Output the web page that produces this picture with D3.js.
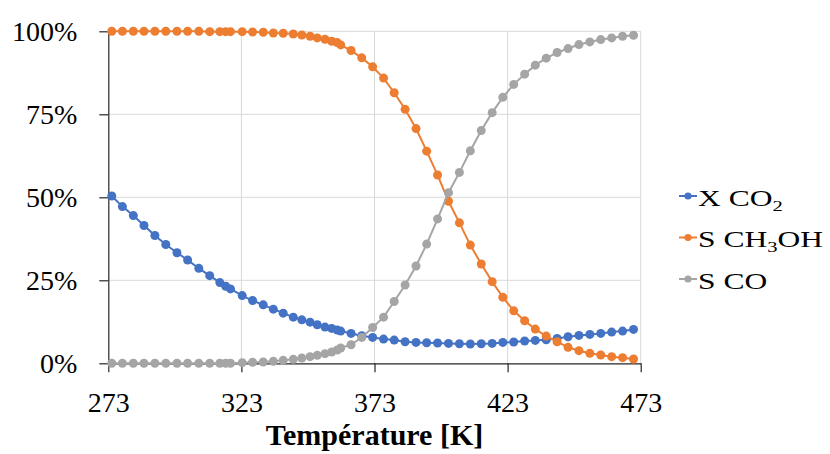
<!DOCTYPE html>
<html>
<head>
<meta charset="utf-8">
<script src="https://cdn.jsdelivr.net/npm/d3@7"></script>
<style>
  html, body { margin: 0; padding: 0; background: #fff; }
  svg { display: block; }
  text { font-family: "Liberation Serif", "DejaVu Serif", serif; fill: #000; }
</style>
</head>
<body>
<svg id="chart" width="830" height="454"></svg>
<script>
// ---- data ----
const temperatures = [274.3, 278.3, 282.4, 286.4, 290.5, 294.6, 298.8, 302.8, 307.0, 311.1,
  314.9, 317.1, 318.9, 323.3, 327.2, 331.2, 335.0, 338.7, 342.5, 345.7,
  348.8, 351.5, 354.4, 356.9, 359.0, 360.3, 364.2, 368.2, 372.3, 376.4,
  380.4, 384.5, 388.6, 392.6, 396.7, 400.8, 404.9, 409.0, 413.1, 417.2,
  421.2, 425.3, 429.4, 433.4, 437.5, 441.6, 445.7, 449.8, 453.9, 458.0,
  462.1, 466.2, 470.3];

const xCO2 = [50.4, 47.2, 44.5, 41.5, 38.5, 35.8, 33.3, 31.1, 28.6, 26.4,
  24.3, 23.2, 22.4, 20.4, 18.9, 17.6, 16.3, 15.1, 13.9, 13.1,
  12.4, 11.6, 10.9, 10.5, 10.0, 9.7, 9.0, 8.3, 7.8, 7.3,
  7.0, 6.5, 6.3, 6.2, 6.1, 6.0, 5.9, 5.8, 5.9, 6.0,
  6.3, 6.4, 6.7, 6.9, 7.1, 7.5, 8.0, 8.4, 8.7, 9.0,
  9.4, 9.7, 10.2];

const sCH3OH = [100, 100, 100, 100, 100, 100, 100, 100, 100, 99.9,
  99.9, 99.9, 99.9, 99.9, 99.8, 99.7, 99.5, 99.4, 99.2, 98.9,
  98.5, 98.0, 97.6, 97.0, 96.6, 95.9, 94.2, 92.0, 89.3, 85.9,
  81.5, 76.5, 70.7, 63.9, 56.7, 48.8, 42.3, 35.6, 29.9, 24.6,
  19.9, 15.8, 12.8, 10.3, 8.2, 6.5, 4.8, 3.8, 3.0, 2.5,
  2.0, 1.7, 1.3];

const sCO = [0, 0, 0, 0, 0, 0, 0, 0, 0, 0,
  0, 0, 0, 0.2, 0.3, 0.4, 0.6, 0.9, 1.2, 1.6,
  2.0, 2.4, 2.9, 3.4, 4.0, 4.6, 5.6, 7.8, 10.8, 13.9,
  18.6, 23.6, 29.3, 35.9, 43.5, 51.4, 57.5, 64.0, 70.1, 75.5,
  80.1, 84.0, 87.1, 89.8, 91.9, 93.6, 94.8, 96.0, 96.8, 97.5,
  98.0, 98.5, 98.8];

const xTicks = [273, 323, 373, 423, 473];
const yTicks = [0, 25, 50, 75, 100];
const xTitle = "Température [K]";

const seriesNames = [
  { parts: [["X CO", false], ["2", true]] },
  { parts: [["S CH", false], ["3", true], ["OH", false]] },
  { parts: [["S CO", false]] }
];
const seriesValues = [xCO2, sCH3OH, sCO];
const seriesColors = ["#4472C4", "#ED7D31", "#A5A5A5"];

// ---- layout ----
const svg = d3.select("#chart");
const plot = { left: 108.3, right: 640.7, top: 31.3, bottom: 363.3 };

const x = d3.scaleLinear().domain([273, 473]).range([plot.left, plot.right]);
const y = d3.scaleLinear().domain([0, 100]).range([plot.bottom, plot.top]);

// gridlines
const grid = svg.append("g").attr("stroke", "#D9D9D9").attr("stroke-width", 1);
grid.selectAll("line.h").data(yTicks.filter(d => d > 0)).join("line")
  .attr("x1", plot.left).attr("x2", plot.right)
  .attr("y1", d => y(d)).attr("y2", d => y(d));
grid.selectAll("line.v").data(xTicks.filter(d => d > 273)).join("line")
  .attr("x1", d => x(d)).attr("x2", d => x(d))
  .attr("y1", plot.top).attr("y2", plot.bottom);

// axes
const yAxis = d3.axisLeft(y).tickValues(yTicks).tickFormat(d => d + "%")
  .tickSize(9).tickSizeOuter(0).tickPadding(22);
const gy = svg.append("g").attr("transform", `translate(${plot.left},0)`).call(yAxis);

const xAxis = d3.axisBottom(x).tickValues(xTicks).tickFormat(d3.format("d"))
  .tickSize(9).tickSizeOuter(0).tickPadding(19.5);
const gx = svg.append("g").attr("transform", `translate(0,${plot.bottom})`).call(xAxis);

[gx, gy].forEach(g => {
  g.select(".domain").attr("stroke", "#262626").attr("stroke-width", 1.2);
  g.selectAll(".tick line").attr("stroke", "#262626").attr("stroke-width", 1.2);
  g.selectAll(".tick text")
    .attr("font-family", "'Liberation Serif', serif")
    .attr("font-size", 28).attr("fill", "#000");
});

// axis title
svg.append("text")
  .attr("x", (plot.left + plot.right) / 2).attr("y", 445)
  .attr("text-anchor", "middle")
  .attr("font-size", 30).attr("font-weight", "bold")
  .text(xTitle);

// series
const line = d3.line().x(d => x(d[0])).y(d => y(d[1]));
seriesValues.forEach((vals, i) => {
  const pts = temperatures.map((t, j) => [t, vals[j]]);
  const g = svg.append("g");
  g.append("path").datum(pts)
    .attr("fill", "none").attr("stroke", seriesColors[i]).attr("stroke-width", 2)
    .attr("d", line);
  g.selectAll("circle").data(pts).join("circle")
    .attr("cx", d => x(d[0])).attr("cy", d => y(d[1]))
    .attr("r", 4.5).attr("fill", seriesColors[i]);
});

// legend
const legendY = [196, 237.5, 279];
seriesNames.forEach((s, i) => {
  const g = svg.append("g").attr("transform", `translate(0,${legendY[i]})`);
  g.append("line").attr("x1", 679).attr("x2", 697).attr("y1", 0).attr("y2", 0)
    .attr("stroke", seriesColors[i]).attr("stroke-width", 2);
  g.append("circle").attr("cx", 688).attr("cy", 0).attr("r", 3.6).attr("fill", seriesColors[i]);
  const t = g.append("g").attr("transform", "translate(698,9.5) scale(1.37,1)")
    .append("text").attr("x", 0).attr("y", 0).attr("font-size", 23);
  s.parts.forEach(([txt, sub]) => {
    const ts = t.append("tspan").text(txt);
    if (sub) ts.attr("font-size", 15).attr("dy", 5);
    else if (t.selectAll("tspan").size() > 1) ts.attr("dy", -5);
  });
});
</script>
</body>
</html>
